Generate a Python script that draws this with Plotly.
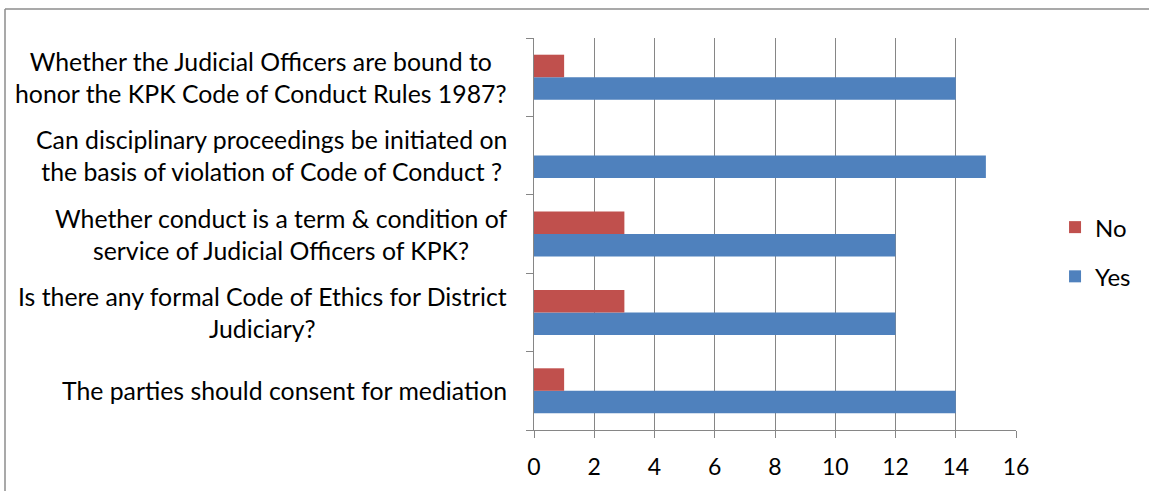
import plotly.graph_objects as go

categories = [
    "The parties should consent for mediation",
    "Is there any formal Code of Ethics for District<br>Judiciary?",
    "Whether conduct is a term & condition of<br>service of Judicial Officers of KPK?",
    "Can disciplinary proceedings be initiated on<br>the basis of violation of Code of Conduct ?",
    "Whether the Judicial Officers are bound to<br>honor the KPK Code of Conduct Rules 1987?",
]
yes_values = [14, 12, 12, 15, 14]
no_values = [1, 3, 3, 0, 1]
x_ticks = [0, 2, 4, 6, 8, 10, 12, 14, 16]

FONT = "Lato"
GRID = "#868686"

W, H = 1149, 491
L, T = 534, 38
PW, PH = 482, 392

fig = go.Figure()
fig.add_trace(go.Bar(y=categories, x=yes_values, orientation="h", name="Yes",
                     marker=dict(color="#4F81BD", line=dict(width=0)),
                     legendgroup="yes", legendrank=2))
fig.add_trace(go.Bar(y=categories, x=no_values, orientation="h", name="No",
                     marker=dict(color="#C0504D", line=dict(width=0)),
                     legendgroup="no", legendrank=1))

for c in categories:
    fig.add_annotation(x=0, xref="paper", y=c, yref="y", text=c, showarrow=False,
                       xanchor="right", yanchor="middle", align="center", xshift=-25,
                       font=dict(family=FONT, size=24.8, color="#000000"))

fig.update_layout(
    width=W, height=H,
    margin=dict(l=L, r=W - L - PW, t=T, b=H - T - PH, autoexpand=False),
    paper_bgcolor="white", plot_bgcolor="white",
    barmode="group", bargap=0.426, bargroupgap=0,
    font=dict(family=FONT, size=22, color="#000000"),
    legend=dict(x=1.081, xanchor="left", y=0.454, yanchor="middle",
                traceorder="grouped", tracegroupgap=15,
                font=dict(family=FONT, size=24), itemwidth=30),
    xaxis=dict(range=[0, 16], tickvals=x_ticks, showgrid=True, gridcolor=GRID, gridwidth=1,
               showline=True, linecolor=GRID, linewidth=1, ticks="outside", ticklen=7,
               tickcolor=GRID, zeroline=False, ticklabelstandoff=9,
               tickfont=dict(family=FONT, size=23)),
    yaxis=dict(categoryorder="array", categoryarray=categories, showticklabels=False,
               tickson="boundaries", ticks="outside", ticklen=7, tickcolor=GRID,
               showline=True, linecolor=GRID, linewidth=1, showgrid=False),
    shapes=[
        dict(type="line", xref="paper", yref="paper",
             x0=(5 - L) / PW, x1=(W + 10 - L) / PW,
             y0=(T + PH - 9) / PH, y1=(T + PH - 9) / PH,
             line=dict(color="#8c8c8c", width=1.5)),
        dict(type="line", xref="paper", yref="paper",
             x0=(5 - L) / PW, x1=(5 - L) / PW,
             y0=(T + PH - 9) / PH, y1=-1,
             line=dict(color="#8c8c8c", width=1.5)),
    ],
)

fig.write_html("out.html", config={"displayModeBar": False},
               post_script="document.body.style.margin='0';document.body.style.overflow='hidden';")
